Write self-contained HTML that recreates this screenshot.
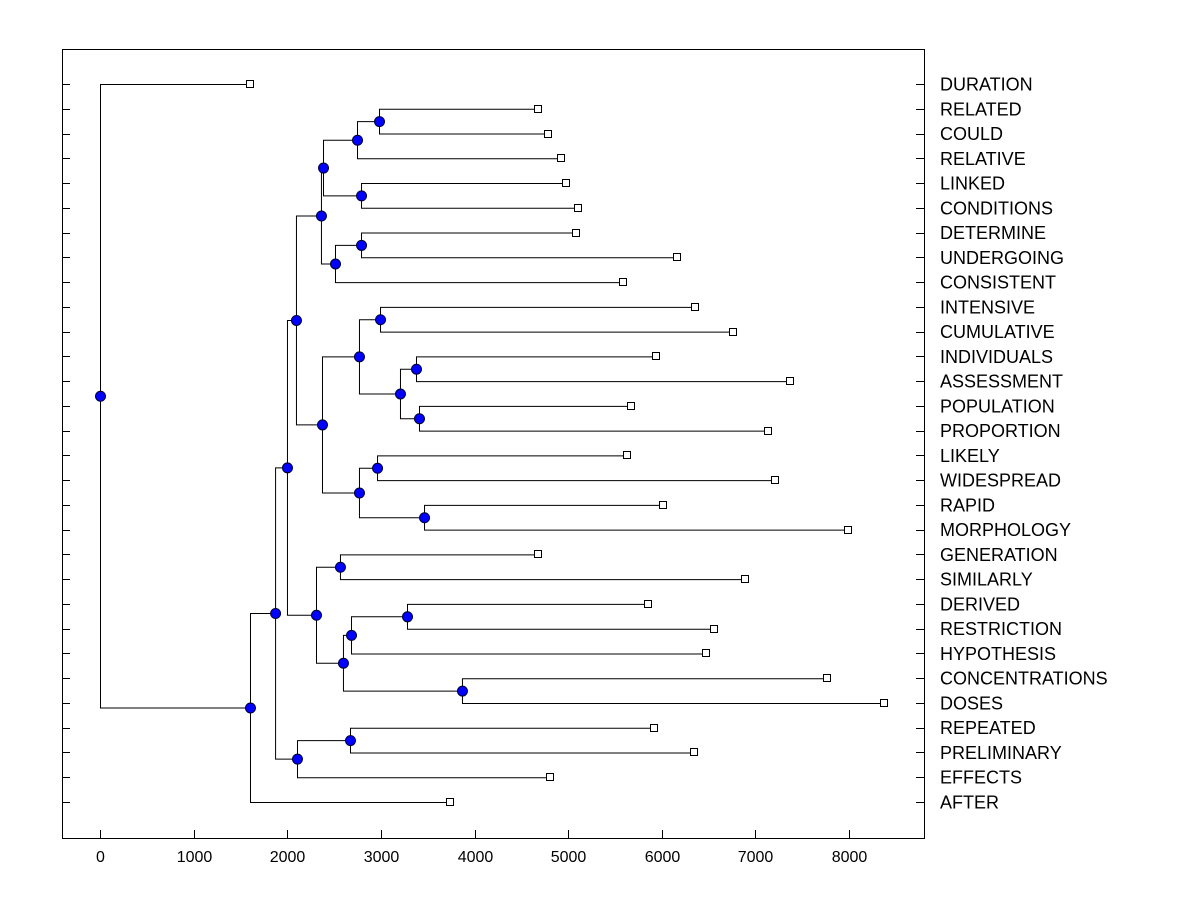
<!DOCTYPE html>
<html><head><meta charset="utf-8"><style>
html,body{margin:0;padding:0;background:#fff;}
text{font-family:"Liberation Sans",Arial,sans-serif;font-size:16px;fill:#000;}
text.leaf{font-size:18px;}
</style></head><body>
<svg id="chart" width="1200" height="900" xmlns="http://www.w3.org/2000/svg">
<rect x="0" y="0" width="1200" height="900" fill="#fff"/>
<rect x="62.5" y="49.5" width="862" height="789" fill="none" stroke="#000" stroke-width="1"/>
<g id="ticks"></g><g id="links"></g><g id="marks"></g><g id="labels"></g>
</svg>
<script>
const leafNames = ["DURATION","RELATED","COULD","RELATIVE","LINKED","CONDITIONS","DETERMINE","UNDERGOING","CONSISTENT","INTENSIVE","CUMULATIVE","INDIVIDUALS","ASSESSMENT","POPULATION","PROPORTION","LIKELY","WIDESPREAD","RAPID","MORPHOLOGY","GENERATION","SIMILARLY","DERIVED","RESTRICTION","HYPOTHESIS","CONCENTRATIONS","DOSES","REPEATED","PRELIMINARY","EFFECTS","AFTER"];
const leafValues = [1602,4678,4785,4924,4977,5105,5084,6163,5586,6355,6761,5939,7370,5671,7135,5629,7210,6013,7989,4678,6889,5853,6558,6473,7765,8374,5917,6344,4806,3738];
const mergeLeft  = [1,30,4,31,6,34,33,9,11,13,38,37,15,17,42,41,36,19,21,48,24,49,47,46,26,54,53,56,0];
const mergeRight = [2,3,5,32,7,8,35,10,12,14,39,40,16,18,43,44,45,20,22,23,25,50,51,52,27,28,55,29,57];
const mergeHeight= [2980,2745,2788,2382,2788,2510,2360,2991,3375,3407,3204,2766,2959,3461,2766,2371,2093,2563,3279,2681,3866,2595,2307,1997,2670,2104,1870,1602,0];
const xTicks = [0,1000,2000,3000,4000,5000,6000,7000,8000];

const NS="http://www.w3.org/2000/svg";
const xs = v => 100 + v*749/8000;
const ys = i => 84 + i*(802-84)/29;
function mk(tag, attrs, parent){const e=document.createElementNS(NS,tag);for(const k in attrs)e.setAttribute(k,attrs[k]);document.getElementById(parent).appendChild(e);return e;}

const nx=[], ny=[];
leafValues.forEach((v,i)=>{nx[i]=xs(v);ny[i]=ys(i);});
for(let k=0;k<mergeHeight.length;k++){
  const id=leafNames.length+k, a=mergeLeft[k], b=mergeRight[k];
  nx[id]=xs(mergeHeight[k]); ny[id]=(ny[a]+ny[b])/2;
  const p=mk('path',{d:`M${nx[a]},${ny[a]+.5}H${nx[id]+.5}V${ny[b]+.5}H${nx[b]}`,fill:'none',stroke:'#000','stroke-width':1},'links');
  
  
}
for(let k=0;k<mergeHeight.length;k++){
  const id=leafNames.length+k;
  const c=mk('circle',{cx:nx[id]+.5,cy:ny[id]+.5,r:5,fill:'#0000ff',stroke:'#000033','stroke-width':1},'marks');
  
  
}
leafNames.forEach((n,i)=>{
  const r=mk('rect',{x:Math.round(nx[i])-3.5,y:Math.round(ny[i])-3.5,width:7,height:7,fill:'#fff',stroke:'#000','stroke-width':1},'marks');
  
  
  const y=Math.round(ny[i])+.5;
  const t1=mk('line',{x1:62,x2:70,y1:y,y2:y,stroke:'#000'},'ticks');
  
  
  const t2=mk('line',{x1:916,x2:924,y1:y,y2:y,stroke:'#000'},'ticks');
  
  
  const t=mk('text',{x:940,y:ny[i]+6.5,'class':'leaf'},'labels');t.textContent=n;
  
  
});
xTicks.forEach(v=>{
  const x=Math.round(xs(v))+.5;
  const l=mk('line',{x1:x,x2:x,y1:830,y2:838,stroke:'#000'},'ticks');
  
  
  const t=mk('text',{x:x,y:862,'text-anchor':'middle'},'labels');t.textContent=v;
  
  
});
</script>
</body></html>
